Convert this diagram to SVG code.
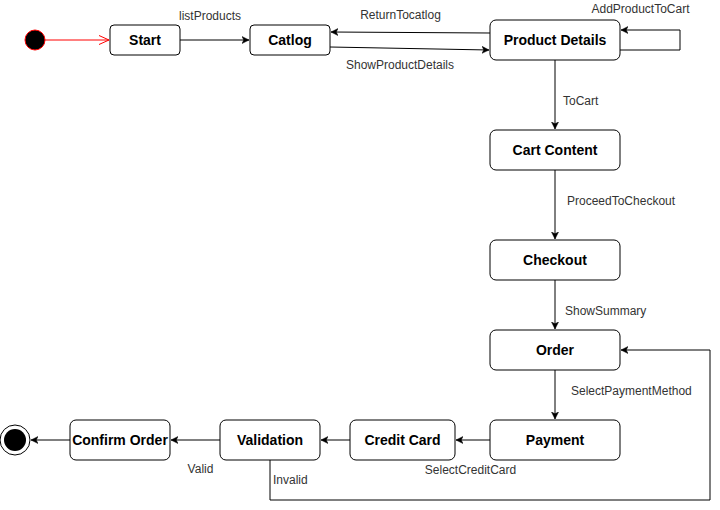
<svg xmlns="http://www.w3.org/2000/svg" width="720" height="510" viewBox="0 0 720 510">
<style>
.node rect{fill:#fff;stroke:#000;stroke-width:1}
.node text{font-family:"Liberation Sans",Arial,sans-serif;font-size:14px;font-weight:bold;text-anchor:middle;fill:#000}
.lbl{font-family:"Liberation Sans",Arial,sans-serif;font-size:12px;fill:#333}
.edge{fill:none;stroke:#000;stroke-width:1}
</style>
<defs>
<marker id="arr" markerWidth="8" markerHeight="8" refX="7" refY="4" orient="auto" markerUnits="userSpaceOnUse">
<path d="M0,0.5 L7,4 L0,7.5 L1.8,4 Z" fill="#000" stroke="#000" stroke-width="0.5"/>
</marker>
<marker id="open" markerWidth="12" markerHeight="12" refX="11" refY="6" orient="auto" markerUnits="userSpaceOnUse">
<path d="M1,1.5 L11,6 L1,10.5" fill="none" stroke="#ff0000" stroke-width="1"/>
</marker>
</defs>
<g id="connectors">
<path class="edge" d="M45,40 L109,40" stroke="#ff0000" style="stroke:#ff0000" marker-end="url(#open)"/>
<path class="edge" d="M180,40 L249,40" marker-end="url(#arr)"/>
<path class="edge" d="M490,33 L331,32" marker-end="url(#arr)"/>
<path class="edge" d="M330,47 L489,50" marker-end="url(#arr)"/>
<path class="edge" d="M620,50 L680,50 L680,30 L621,30" marker-end="url(#arr)"/>
<path class="edge" d="M555,60 L555,129" marker-end="url(#arr)"/>
<path class="edge" d="M555,170 L555,239" marker-end="url(#arr)"/>
<path class="edge" d="M555,280 L555,329" marker-end="url(#arr)"/>
<path class="edge" d="M555,370 L555,419" marker-end="url(#arr)"/>
<path class="edge" d="M490,440 L456,440" marker-end="url(#arr)"/>
<path class="edge" d="M350,440 L321,440" marker-end="url(#arr)"/>
<path class="edge" d="M220,440 L171,440" marker-end="url(#arr)"/>
<path class="edge" d="M70,440 L31,440" marker-end="url(#arr)"/>
<path class="edge" d="M270,460 L270,500 L710,500 L710,350 L621,350" marker-end="url(#arr)"/>
<text class="lbl" x="210" y="20" text-anchor="middle">listProducts</text>
<text class="lbl" x="400.5" y="19" text-anchor="middle">ReturnTocatlog</text>
<text class="lbl" x="400" y="69" text-anchor="middle">ShowProductDetails</text>
<text class="lbl" x="640.5" y="13" text-anchor="middle">AddProductToCart</text>
<text class="lbl" x="563" y="105">ToCart</text>
<text class="lbl" x="567" y="205">ProceedToCheckout</text>
<text class="lbl" x="565" y="315">ShowSummary</text>
<text class="lbl" x="571" y="395">SelectPaymentMethod</text>
<text class="lbl" x="470.5" y="474" text-anchor="middle">SelectCreditCard</text>
<text class="lbl" x="200.5" y="473" text-anchor="middle">Valid</text>
<text class="lbl" x="273" y="484">Invalid</text>
</g>
<g id="initial">
<circle cx="35" cy="40" r="10" fill="#000" stroke="#ff0000" stroke-width="1"/>
</g>
<g id="final">
<circle cx="15" cy="440" r="15" fill="#fff" stroke="#000" stroke-width="1"/>
<circle cx="15" cy="440" r="11" fill="#000"/>
</g>
<g id="start" class="node"><rect x="110" y="25" width="70" height="30" rx="4"/><text x="145" y="45">Start</text></g>
<g id="catlog" class="node"><rect x="250" y="25" width="80" height="30" rx="4"/><text x="290" y="45">Catlog</text></g>
<g id="product-details" class="node"><rect x="490" y="20" width="130" height="40" rx="6"/><text x="555" y="45">Product Details</text></g>
<g id="cart-content" class="node"><rect x="490" y="130" width="130" height="40" rx="6"/><text x="555" y="155">Cart Content</text></g>
<g id="checkout" class="node"><rect x="490" y="240" width="130" height="40" rx="6"/><text x="555" y="265">Checkout</text></g>
<g id="order" class="node"><rect x="490" y="330" width="130" height="40" rx="6"/><text x="555" y="355">Order</text></g>
<g id="payment" class="node"><rect x="490" y="420" width="130" height="40" rx="6"/><text x="555" y="445">Payment</text></g>
<g id="credit-card" class="node"><rect x="350" y="420" width="105" height="40" rx="6"/><text x="402.5" y="445">Credit Card</text></g>
<g id="validation" class="node"><rect x="220" y="420" width="100" height="40" rx="6"/><text x="270" y="445">Validation</text></g>
<g id="confirm-order" class="node"><rect x="70" y="420" width="100" height="40" rx="6"/><text x="120" y="445">Confirm Order</text></g>
</svg>
